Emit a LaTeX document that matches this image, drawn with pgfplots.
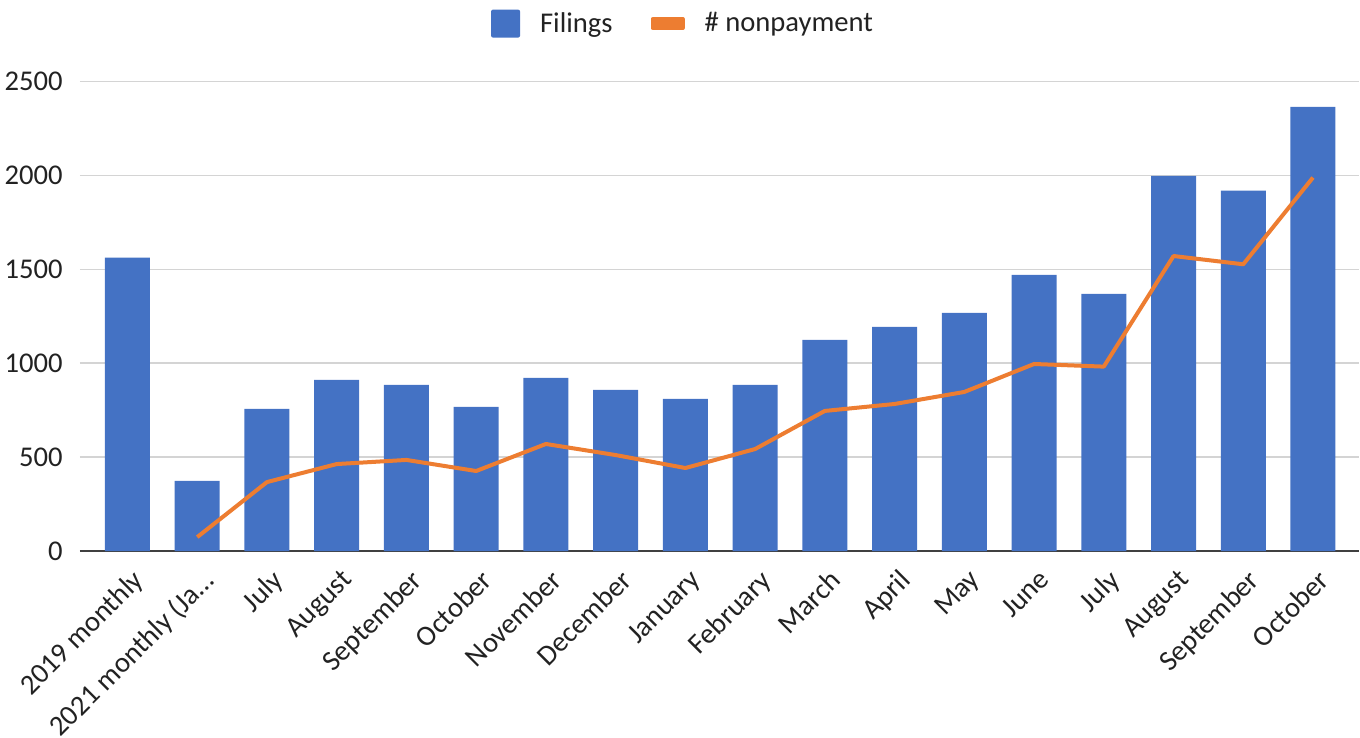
\documentclass[border=0pt]{standalone}
\usepackage{pgfplots}
\pgfplotsset{compat=1.18}
\usepackage{fontspec}
\setmainfont{Carlito}
\definecolor{barblue}{HTML}{4472C4}
\definecolor{lineorange}{HTML}{ED7D31}
\definecolor{gridgray}{HTML}{D4D4D4}
\definecolor{txt}{HTML}{222222}
\begin{document}
\begin{tikzpicture}
\useasboundingbox (-40pt,-93.5pt) rectangle (640pt,275.5pt);
\begin{axis}[
  at={(0,0)}, anchor=south west,
  scale only axis, width=639.5pt, height=234.7pt,
  xmin=-0.681, xmax=17.66, ymin=0, ymax=2500,
  ytick={0,500,1000,1500,2000,2500},
  xtick={0,1,2,3,4,5,6,7,8,9,10,11,12,13,14,15,16,17},
  xticklabels={2019 monthly,{2021 monthly (Ja\ldots},July,August,September,October,November,December,January,February,March,April,May,June,July,August,September,October},
  axis x line*=bottom, axis y line*=left,
  x axis line style={draw=black!75, line width=1pt, -},
  y axis line style={draw=none},
  major tick length=0pt,
  ymajorgrids, grid style={gridgray, line width=0.75pt},
  /pgf/number format/assume math mode=true,
  /pgf/number format/1000 sep={},
  yticklabel style={font=\fontsize{14.3}{16}\selectfont, text=txt, anchor=east, inner sep=0pt, xshift=-8.5pt},
  xticklabel style={font=\fontsize{14.3}{16}\selectfont, text=txt, rotate=45, anchor=north east, inner sep=0pt, xshift=-4.6pt, yshift=-7.1pt},
  legend style={at={(0.4707,1)}, anchor=center, yshift=29pt, draw=none, fill=none,
    legend columns=2, font=\fontsize{14.3}{16}\selectfont, text=txt,
    nodes={inner sep=0pt},
    /tikz/every odd column/.append style={column sep=10pt},
    /tikz/every even column/.append style={column sep=19pt},
    legend cell align=left},
]
\addplot[ybar, bar width=22.5pt, bar shift=0pt, fill=barblue, draw=none,
  legend image code/.code={\fill[barblue, rounded corners=1pt] (0pt,-7pt) rectangle (14.5pt,7pt);}]
  coordinates {(0,1562) (1,373) (2,757) (3,911) (4,885) (5,767) (6,922) (7,858) (8,810) (9,885) (10,1124) (11,1194) (12,1268) (13,1471) (14,1369) (15,1998) (16,1919) (17,2365)};
\addlegendentry{Filings}
\addplot[lineorange, line width=2pt, line join=round, mark=none, sharp plot,
  legend image code/.code={\fill[lineorange] (0pt,-2.25pt) rectangle (15pt,2.25pt);}]
  coordinates {(1,74) (2,367) (3,463) (4,485) (5,426) (6,570) (7,511) (8,442) (9,543) (10,746) (11,783) (12,847) (13,996) (14,982) (15,1571) (16,1527) (17,1989)};
\addlegendentry{\# nonpayment}
\end{axis}
\end{tikzpicture}
\end{document}
